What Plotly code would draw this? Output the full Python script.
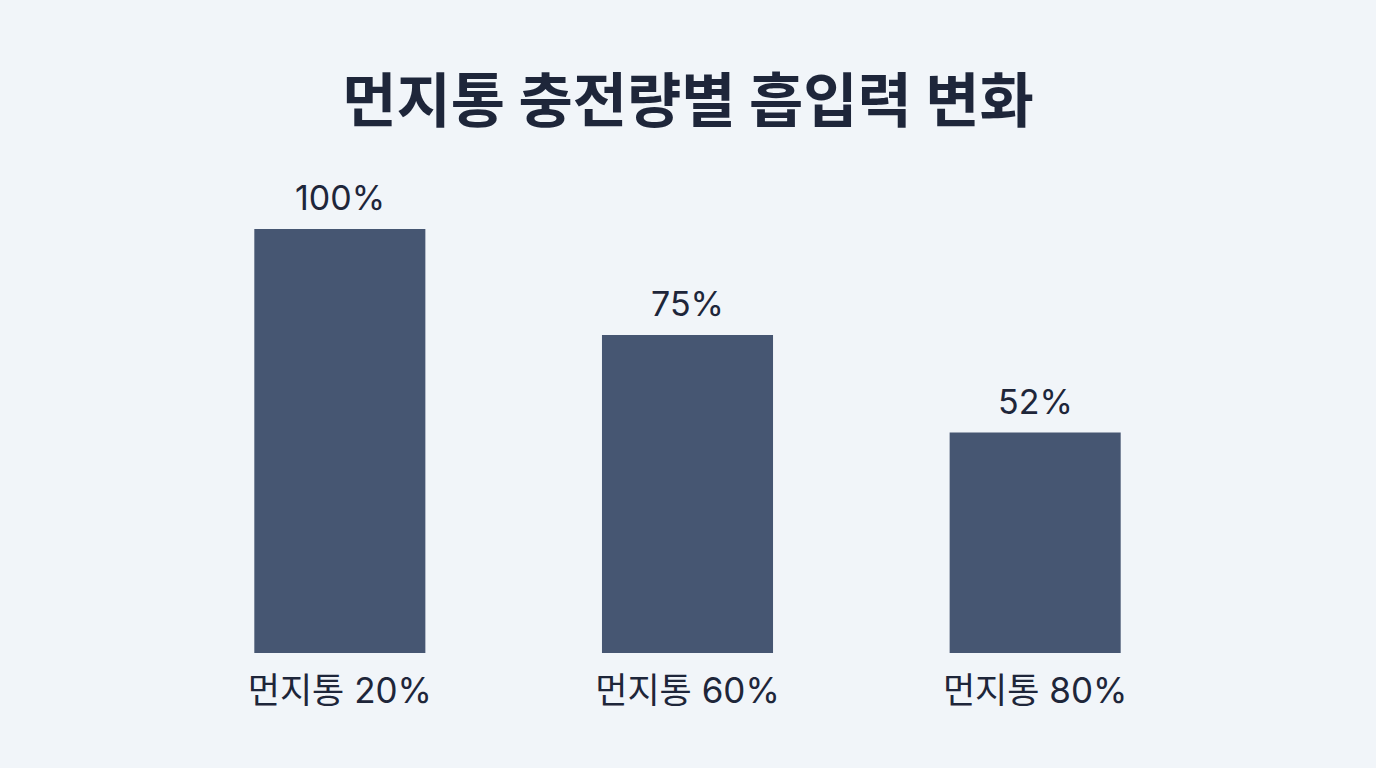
import plotly.graph_objects as go

# ? Data
categories = ['먼지통 20%', '먼지통 60%', '먼지통 80%']
suction = [100, 75, 52]
value_labels = ['100%', '75%', '52%']

title_text = '먼지통 충전량별 흡입력 변화'

bg = '#f1f5f9'
bar_color = '#465672'
text_color = '#1e263a'
font_family = 'Inter, "Noto Sans CJK KR", "Noto Sans", sans-serif'

fig = go.Figure()

fig.add_trace(go.Bar(
    x=categories,
    y=suction,
    marker=dict(color=bar_color, line=dict(width=0)),
    hoverinfo='skip',
    showlegend=False,
))

# ? Value labels above each bar
for cat, val, label in zip(categories, suction, value_labels):
    fig.add_annotation(
        x=cat, y=val, text=label,
        showarrow=False, yanchor='bottom', yshift=9,
        font=dict(family=font_family, size=34, color=text_color),
    )

fig.update_layout(
    width=1376, height=768,
    paper_bgcolor=bg, plot_bgcolor=bg,
    margin=dict(l=166, r=167, t=165, b=115),
    bargap=0.508,
    title=dict(
        text='<b>' + title_text + '</b>',
        x=0.5, xanchor='center', y=0.868, yanchor='middle',
        font=dict(family='"Noto Sans CJK KR", sans-serif', size=59, color=text_color),
    ),
    xaxis=dict(
        showgrid=False, zeroline=False, showline=False,
        ticks='', ticklabelstandoff=14,
        tickfont=dict(family=font_family, size=35, color=text_color),
    ),
    yaxis=dict(
        range=[0, 115.1], visible=False,
        showgrid=False, zeroline=False,
    ),
)

# ? Remove the page margin so the figure fills the window.
fig.write_html('out.html',
               config={'displayModeBar': False},
               post_script="document.body.style.margin='0';document.body.style.background='#f1f5f9';")
